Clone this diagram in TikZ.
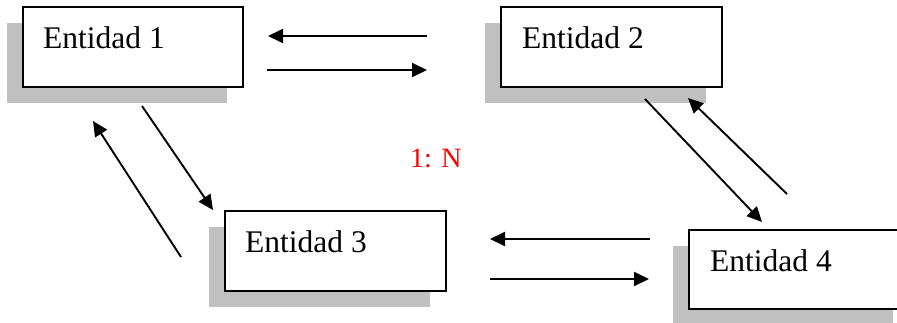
\documentclass[tikz,border=0pt]{standalone}
\usepackage{fontspec}
\setmainfont{Liberation Serif}
\usetikzlibrary{arrows.meta}
\definecolor{shadowgray}{HTML}{C0C0C0}
\begin{document}
\begin{tikzpicture}[x=1pt,y=-1pt,
  entbox/.style={draw=black, line width=1.4pt, fill=white, minimum height=80pt, inner sep=0pt, outer sep=0pt},
  entshadow/.style={fill=shadowgray, draw=none},
  entname/.style={anchor=base west, inner sep=0pt, font=\fontsize{31.5}{36}\selectfont},
  link/.style={line width=1.9pt, -{Triangle[length=15pt,width=14pt]}},
  card/.style={anchor=base west, inner sep=0pt, text=red, font=\fontsize{28}{32}\selectfont}]
\begin{scope}
\clip (0,0) rectangle (897,322);
% shadows
\fill[entshadow] (7,23) rectangle (227,103);
\fill[entshadow] (485,23) rectangle (706,103);
\fill[entshadow] (209,227) rectangle (430,307);
\fill[entshadow] (673,246) rectangle (893,330);
% entities
\node[entbox, minimum width=220pt] (e1) at (133,47) {};
\node[entname] (t1) at (43,48) {Entidad 1};
\node[entbox, minimum width=221pt] (e2) at (611.5,47) {};
\node[entname] (t2) at (522,48) {Entidad 2};
\node[entbox, minimum width=221pt] (e3) at (335.5,251) {};
\node[entname] (t3) at (245,252) {Entidad 3};
\node[entbox, minimum width=240pt, minimum height=79pt] (e4) at (809,269.5) {};
\node[entname] (t4) at (710,271) {Entidad 4};
% cardinality
\node[card] (c) at (410,167) {1: N};
% arrow end points
\coordinate (a1s) at (427,36);  \coordinate (a1e) at (268,36);
\coordinate (a2s) at (267,70);  \coordinate (a2e) at (427,70);
\coordinate (a3s) at (142,106); \coordinate (a3e) at (213,210);
\coordinate (a4s) at (181,257); \coordinate (a4e) at (93,121);
\coordinate (a5s) at (645,99);  \coordinate (a5e) at (762,222);
\coordinate (a6s) at (787,194); \coordinate (a6e) at (688,98);
\coordinate (a7s) at (650,239); \coordinate (a7e) at (490,239);
\coordinate (a8s) at (490,279); \coordinate (a8e) at (649,279);
\draw[link] (a1s) -- (a1e);
\draw[link] (a2s) -- (a2e);
\draw[link] (a3s) -- (a3e);
\draw[link] (a4s) -- (a4e);
\draw[link] (a5s) -- (a5e);
\draw[link] (a6s) -- (a6e);
\draw[link] (a7s) -- (a7e);
\draw[link] (a8s) -- (a8e);
\end{scope}
\pgfresetboundingbox
\useasboundingbox (0,0) rectangle (897,322);
\end{tikzpicture}
\end{document}
